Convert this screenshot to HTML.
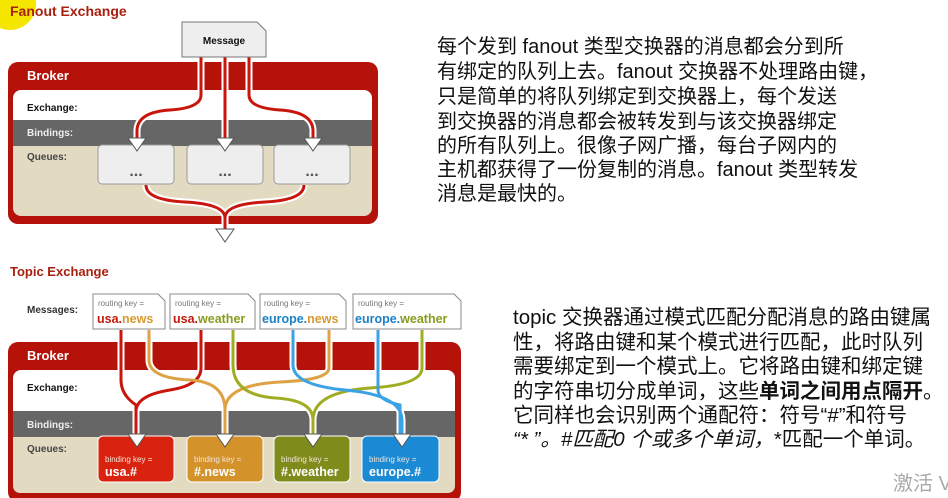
<!DOCTYPE html>
<html><head><meta charset="utf-8"><style>
body{margin:0;width:948px;height:498px;background:#fff;overflow:hidden;position:relative;font-family:"Liberation Sans","Noto Sans CJK SC",sans-serif}
.t{position:absolute;font-size:20px;color:#111;white-space:nowrap;line-height:24px}
.u{font-size:20.5px}
</style></head><body>
<svg width="470" height="498" style="position:absolute;left:0;top:0" font-family="Liberation Sans, sans-serif">
<circle cx="10" cy="4" r="26" fill="#f5e600"/>
<text x="10" y="16" font-size="14" font-weight="bold" fill="#a8200f">Fanout Exchange</text>
<rect x="8" y="62" width="370" height="162" rx="10" fill="#b5120a"/>
<text x="27" y="80" font-size="13" font-weight="bold" fill="#fff">Broker</text>
<path d="M13 98 a8 8 0 0 1 8 -8 H364 a8 8 0 0 1 8 8 V120 H13Z" fill="#fff"/>
<rect x="13" y="120" width="359" height="26" fill="#666"/>
<path d="M13 146 H372 V208 a8 8 0 0 1 -8 8 H21 a8 8 0 0 1 -8 -8Z" fill="#e3dac2"/>
<text x="27" y="111" font-size="10" font-weight="bold" fill="#111">Exchange:</text>
<text x="27" y="136" font-size="10" font-weight="bold" fill="#eee">Bindings:</text>
<text x="27" y="160" font-size="10" font-weight="bold" fill="#444">Queues:</text>
<g fill="#eee" stroke="#999">
<rect x="98" y="145" width="76" height="39" rx="4"/><rect x="187" y="145" width="76" height="39" rx="4"/><rect x="274" y="145" width="76" height="39" rx="4"/>
</g>
<g font-size="16" font-weight="bold" fill="#555" text-anchor="middle"><text x="136" y="176">...</text><text x="225" y="176">...</text><text x="312" y="176">...</text></g>
<g fill="none" stroke-linecap="butt">
<path d="M201 57 V95 Q201 108 170 110 Q138 112 137 130 V140 M225 57 V140 M249 57 V95 Q249 108 280 110 Q312 112 313 130 V140 M146 185 Q146 200 185 202 Q225 204 225 218 V230 M304 185 Q304 200 265 202 Q225 204 225 218" stroke="#fff" stroke-width="7"/>
<path d="M201 57 V95 Q201 108 170 110 Q138 112 137 130 V140 M225 57 V140 M249 57 V95 Q249 108 280 110 Q312 112 313 130 V140 M146 185 Q146 200 185 202 Q225 204 225 218 V230 M304 185 Q304 200 265 202 Q225 204 225 218" stroke="#c8160c" stroke-width="3"/>
</g>
<path d="M182 22 H257 L266 31 V57 H182Z" fill="#eee" stroke="#777"/>
<text x="224" y="44" font-size="10" font-weight="bold" fill="#111" text-anchor="middle">Message</text>
<g fill="#fff" stroke="#555"><path d="M128 138 H146 L137 151Z"/><path d="M216 138 H234 L225 151Z"/><path d="M304 138 H322 L313 151Z"/><path d="M216 229 H234 L225 242Z"/></g>

<text x="10" y="276" font-size="13" font-weight="bold" fill="#a8200f">Topic Exchange</text>
<text x="27" y="313" font-size="10" font-weight="bold" fill="#333">Messages:</text>
<rect x="8" y="342" width="453" height="160" rx="10" fill="#b5120a"/>
<text x="27" y="360" font-size="13" font-weight="bold" fill="#fff">Broker</text>
<path d="M13 378 a8 8 0 0 1 8 -8 H447 a8 8 0 0 1 8 8 V411 H13Z" fill="#fff"/>
<rect x="13" y="411" width="442" height="26" fill="#666"/>
<path d="M13 437 H455 V486 a7 7 0 0 1 -7 7 H20 a7 7 0 0 1 -7 -7Z" fill="#e3dac2"/>
<text x="27" y="391" font-size="10" font-weight="bold" fill="#111">Exchange:</text>
<text x="27" y="428" font-size="10" font-weight="bold" fill="#eee">Bindings:</text>
<text x="27" y="452" font-size="10" font-weight="bold" fill="#444">Queues:</text>
<g fill="none">
<g stroke="#fff" stroke-width="7">
<path d="M121 330 V380 Q121 395 136 405 V440"/><path d="M201 330 V368 Q201 385 170 390 Q138 395 136 410"/>
<path d="M149 330 V360 Q149 378 190 380 Q225 382 225 410 V440"/><path d="M329 330 V368 Q329 380 280 382 Q225 385 225 410"/>
<path d="M233 330 V365 Q233 395 275 398 Q313 400 313 420 V440"/><path d="M422 330 V368 Q422 385 370 388 Q313 392 313 420"/>
<path d="M293 330 V365 Q293 385 345 390 Q402 395 402 420 V440"/><path d="M378 330 V390 Q378 400 400 405 V440"/>
</g>
<g stroke-width="3">
<path stroke="#c8160c" d="M121 330 V380 Q121 395 136 405 V440"/><path stroke="#c8160c" d="M201 330 V368 Q201 385 170 390 Q138 395 136 410"/>
<path stroke="#dca243" d="M149 330 V360 Q149 378 190 380 Q225 382 225 410 V440"/><path stroke="#dca243" d="M329 330 V368 Q329 380 280 382 Q225 385 225 410"/>
<path stroke="#a0ad22" d="M233 330 V365 Q233 395 275 398 Q313 400 313 420 V440"/><path stroke="#a0ad22" d="M422 330 V368 Q422 385 370 388 Q313 392 313 420"/>
<path stroke="#3ba3e3" d="M293 330 V365 Q293 385 345 390 Q402 395 402 420 V440"/><path stroke="#3ba3e3" d="M378 330 V390 Q378 400 400 405 V440"/>
</g></g>
<g stroke="#fff" stroke-width="1">
<rect x="98" y="436" width="76" height="46" rx="5" fill="#d9230f"/>
<rect x="187" y="436" width="76" height="46" rx="5" fill="#d4922a"/>
<rect x="274" y="436" width="76" height="46" rx="5" fill="#7f8c1c"/>
<rect x="362" y="436" width="77" height="46" rx="5" fill="#1a8ad4"/>
</g>
<g fill="#f3e6dc" font-size="8"><text x="105" y="462">binding key =</text><text x="194" y="462">binding key =</text><text x="281" y="462">binding key =</text><text x="369" y="462">binding key =</text></g>
<g fill="#fff" font-size="12.5" font-weight="bold"><text x="105" y="476">usa.#</text><text x="194" y="476">#.news</text><text x="281" y="476">#.weather</text><text x="369" y="476">europe.#</text></g>
<g fill="#fff" stroke="#555"><path d="M128 434 H146 L137 447Z"/><path d="M216 434 H234 L225 447Z"/><path d="M304 434 H322 L313 447Z"/><path d="M393 434 H411 L402 447Z"/></g>
<g fill="#fff" stroke="#888">
<path d="M93 294 H158 L165 301 V329 H93Z"/><path d="M170 294 H248 L255 301 V329 H170Z"/>
<path d="M260 294 H339 L346 301 V329 H260Z"/><path d="M353 294 H454 L461 301 V329 H353Z"/>
</g>
<g fill="#777" font-size="8"><text x="98" y="306">routing key =</text><text x="175" y="306">routing key =</text><text x="264" y="306">routing key =</text><text x="358" y="306">routing key =</text></g>
<g font-size="12.5" font-weight="bold">
<text x="97" y="323"><tspan fill="#c21a0c">usa.</tspan><tspan fill="#d9992f">news</tspan></text>
<text x="173" y="323"><tspan fill="#c21a0c">usa.</tspan><tspan fill="#8a9a1e">weather</tspan></text>
<text x="262" y="323"><tspan fill="#1a80c8">europe.</tspan><tspan fill="#d9992f">news</tspan></text>
<text x="355" y="323"><tspan fill="#1a80c8">europe.</tspan><tspan fill="#8a9a1e">weather</tspan></text>
</g>
</svg>
<div class="t" style="left:437px;top:35px">每个发到 fanout 类型交换器的消息都会分到所</div>
<div class="t" style="left:437px;top:60px">有绑定的队列上去。fanout 交换器不处理路由键，</div>
<div class="t" style="left:437px;top:85px">只是简单的将队列绑定到交换器上，每个发送</div>
<div class="t" style="left:437px;top:110px">到交换器的消息都会被转发到与该交换器绑定</div>
<div class="t" style="left:437px;top:134px">的所有队列上。很像子网广播，每台子网内的</div>
<div class="t" style="left:437px;top:158px">主机都获得了一份复制的消息。fanout 类型转发</div>
<div class="t" style="left:437px;top:182px">消息是最快的。</div>
<div class="t u" style="left:513px;top:306px">topic 交换器通过模式匹配分配消息的路由键属</div>
<div class="t u" style="left:513px;top:331px">性，将路由键和某个模式进行匹配，此时队列</div>
<div class="t u" style="left:513px;top:355px">需要绑定到一个模式上。它将路由键和绑定键</div>
<div class="t u" style="left:513px;top:380px">的字符串切分成单词，这些<b>单词之间用点隔开</b>。</div>
<div class="t u" style="left:513px;top:404px">它同样也会识别两个通配符：符号“#”和符号</div>
<div class="t u" style="left:513px;top:428px"><i>“* ”。#匹配0 个或多个单词，</i>*匹配一个单词。</div>
<div class="t" style="left:893px;top:472px;color:#aaa">激活 V</div>
</body></html>
